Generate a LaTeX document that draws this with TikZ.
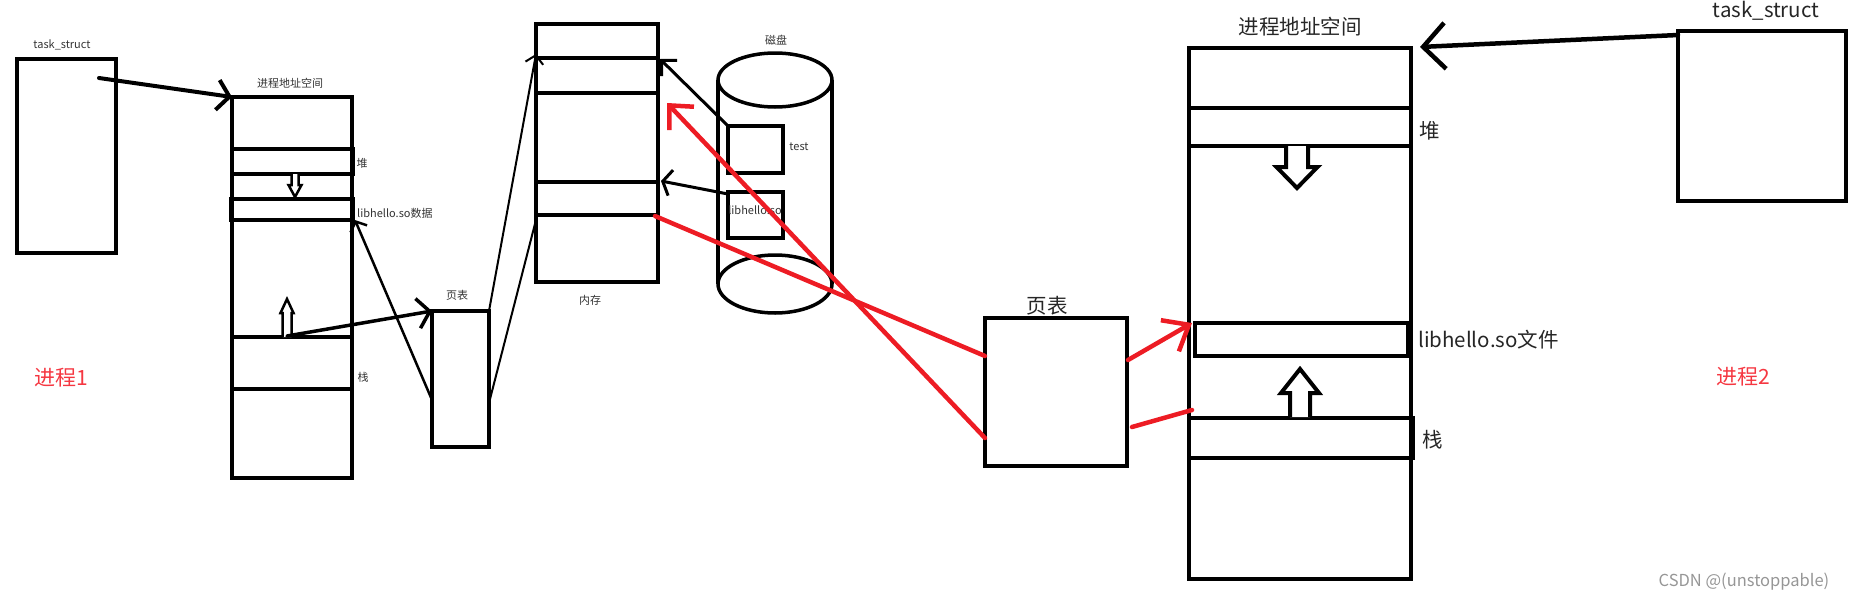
\documentclass[tikz,border=0pt]{standalone}
\usepackage{fontspec}
\setmainfont{Noto Sans CJK SC}
\usetikzlibrary{arrows.meta}
\definecolor{pred}{RGB}{237,28,36}
\definecolor{lred}{RGB}{245,55,65}
\definecolor{wm}{RGB}{150,150,150}
\begin{document}
\begin{tikzpicture}[x=1pt,y=-1pt,
  rbox/.style={draw, line width=#1, inner sep=0pt, outer sep=0pt, anchor=north west},
  rbox/.default=4pt,
  band/.style={draw, line width=#1},
  band/.default=4pt,
  sm/.style={font=\fontsize{11}{13}\selectfont, inner sep=0pt, text=black!80},
  big/.style={font=\fontsize{20.5}{24}\selectfont, inner sep=0pt, text=black!85},
  hollow/.style={draw, fill=white, line join=miter, line width=#1},
  redl/.style={draw=pred, line width=4.5pt, line cap=round},
  blk/.style={draw=black, line width=#1, line cap=round},
]
\useasboundingbox (0,0) rectangle (1850,600);

% ---------------- left: process 1 ----------------
\node[rbox, minimum width=99pt, minimum height=194pt] (ts1) at (17,59) {};
\node[sm] (ts1lab) at (62,45) {task\_struct};
\coordinate (ts1o) at (99,78);

\node[rbox, minimum width=120pt, minimum height=381pt] (as1) at (232,97) {};
\node[sm] (as1lab) at (290,83) {进程地址空间};
\draw[band] (232,149) rectangle (353,174);
\draw[band] (231,199) rectangle (353,220);
\draw[band] (232,337) -- (352,337);
\draw[band] (232,389) -- (352,389);
\draw[hollow=2.5pt] (291.5,174) -- (291.5,185) -- (288.5,185) -- (295,197) -- (301.5,185) -- (298.5,185) -- (298.5,174);
\draw[hollow=2.5pt] (282.5,337) -- (282.5,313) -- (280.5,313) -- (287,299) -- (293.5,313) -- (291.5,313) -- (291.5,337);
\node[sm, anchor=center] (heap1lab) at (362,163) {堆};
\node[sm, anchor=west] (lso1lab) at (357,213) {libhello.so数据};
\node[sm] (stk1lab) at (363,377) {栈};
\coordinate (as1stk) at (287,336);
\coordinate (as1lso) at (355,220);

\node[rbox=3.5pt, minimum width=57pt, minimum height=136pt] (pt1) at (432,311) {};
\node[sm] (pt1lab) at (457,295) {页表};
\coordinate (pt1l) at (432,400);
\coordinate (pt1r) at (489,403);

\node[rbox=3.5pt, minimum width=122pt, minimum height=258pt] (mem) at (536,24) {};
\draw[band=3.5pt] (536,58) -- (658,58);
\draw[band=3.5pt] (536,93) -- (658,93);
\draw[band=3.5pt] (536,182) -- (658,182);
\draw[band=3.5pt] (536,215) -- (658,215);
\node[sm] (memlab) at (590,300) {内存};
\coordinate (memtl) at (536,54);
\coordinate (membl) at (537,216);
\coordinate (memtr) at (660,59);
\coordinate (memlr) at (661,181);
\coordinate (membr) at (655,216);
\coordinate (memred) at (667,103);

% disk
\draw[line width=3.5pt] (718,80) -- (718,284);
\draw[line width=3.5pt] (832,80) -- (832,284);
\draw[line width=3.5pt, fill=white] (775,80) ellipse [x radius=57pt, y radius=27pt];
\draw[line width=3.5pt] (775,284) ellipse [x radius=57pt, y radius=29pt];
\node[sm] (disklab) at (776,40) {磁盘};
\node[rbox=3.5pt, minimum width=55pt, minimum height=47pt] (test) at (728,126) {};
\node[sm] (testlab) at (799,147) {test};
\node[rbox=3.5pt, minimum width=55pt, minimum height=46pt] (lso) at (728,192) {};
\node[sm] (lsolab) at (755,210) {libhello.so};
\coordinate (lsoo) at (728,194);

\node[font=\fontsize{21}{24}\selectfont, text=lred, inner sep=0pt] (p1) at (61,378) {进程1};

% black connectors
\draw[blk=4pt, -{Straight Barb[length=12pt,width=30pt]}] (ts1o) -- (as1.north west);
\draw[blk=3.5pt, -{Straight Barb[length=12pt,width=30pt]}] (as1stk) -- (pt1.north west);
\draw[blk=2.5pt, -{Straight Barb[length=8pt,width=18pt]}] (pt1l) -- (as1lso);
\draw[blk=2pt, -{Straight Barb[length=8pt,width=18pt]}] (pt1.north east) -- (memtl);
\draw[blk=2pt] (pt1r) -- (membl);
\draw[blk=3pt, -{Straight Barb[length=11pt,width=22pt]}] (test.north west) -- (memtr);
\draw[blk=3pt, -{Straight Barb[length=8pt,width=26pt]}] (lsoo) -- (memlr);

% ---------------- right: process 2 ----------------
\node[rbox=4.5pt, minimum width=142pt, minimum height=148pt] (pt2) at (985,318) {};
\node[big] (pt2lab) at (1047,306) {页表};
\coordinate (pt2la) at (985,356);
\coordinate (pt2lb) at (985,438);
\coordinate (pt2ra) at (1128,360);
\coordinate (pt2rb) at (1132,427);

\node[rbox=4.5pt, minimum width=222pt, minimum height=531pt] (as2) at (1189,48) {};
\node[big] (as2lab) at (1300,27) {进程地址空间};
\draw[band=4.5pt] (1189,108) rectangle (1411,146);
\draw[band=4.5pt] (1195,323) rectangle (1408,356);
\draw[band=4.5pt] (1189,418) rectangle (1413,458);
\draw[hollow=4pt] (1286,146) -- (1286,167) -- (1276.5,167) -- (1297,188) -- (1317.5,167) -- (1308,167) -- (1308,146);
\draw[hollow=4pt] (1290,417) -- (1290,393) -- (1281,393) -- (1300,369) -- (1319,393) -- (1310,393) -- (1310,417);
\node[big] (heap2lab) at (1430,131) {堆};
\node[big, anchor=west] (lso2lab) at (1418,340) {libhello.so文件};
\node[big] (stk2lab) at (1433,440) {栈};
\coordinate (as2lso) at (1192,323);
\coordinate (as2mid) at (1192,410);
\coordinate (as2top) at (1420,47);

\node[rbox=4.5pt, minimum width=168pt, minimum height=170pt] (ts2) at (1678,31) {};
\node[big] (ts2lab) at (1766,11) {task\_struct};
\coordinate (ts2o) at (1678,35);
\draw[blk=4.5pt, -{Straight Barb[length=22pt,width=46pt]}] (ts2o) -- (as2top);

\node[font=\fontsize{21}{24}\selectfont, text=lred, inner sep=0pt] (p2) at (1743,377) {进程2};

% red connectors
\draw[redl] (membr) -- (pt2la);
\draw[redl, -{Straight Barb[length=18pt,width=34pt]}] (pt2lb) -- (memred);
\draw[redl, -{Straight Barb[length=22pt,width=36pt]}] (pt2ra) -- (as2lso);
\draw[redl] (pt2rb) -- (as2mid);

\node[font=\fontsize{16.5}{19}\selectfont, text=wm, inner sep=0pt] (wmk) at (1744,582) {CSDN @(unstoppable)};
\end{tikzpicture}
\end{document}
